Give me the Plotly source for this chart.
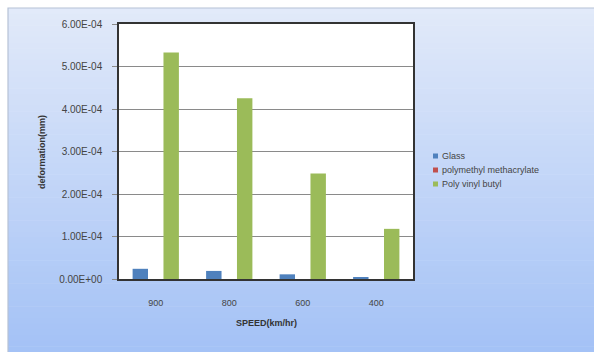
import plotly.graph_objects as go

# Data
speeds = ["900", "800", "600", "400"]
glass = [2.4e-5, 1.9e-5, 1.1e-5, 4.0e-6]
pmma = [0.0, 0.0, 0.0, 0.0]
pvb = [5.33e-4, 4.25e-4, 2.48e-4, 1.18e-4]
series_names = ["Glass", "polymethyl methacrylate", "Poly vinyl butyl"]
y_ticks = [0, 1e-4, 2e-4, 3e-4, 4e-4, 5e-4, 6e-4]
y_tick_labels = ["0.00E+00", "1.00E-04", "2.00E-04", "3.00E-04", "4.00E-04", "5.00E-04", "6.00E-04"]

W, H = 594, 352
ML, MR, MT, MB = 119, 181, 24, 73
PW, PH = W - ML - MR, H - MT - MB


def px_x(p):
    return (p - ML) / PW


def px_y(p):
    return (H - MB - p) / PH


fig = go.Figure()
colors = ["#4f81bd", "#c0504d", "#9bbb59"]
for name, vals, c in zip(series_names, [glass, pmma, pvb], colors):
    fig.add_trace(go.Bar(x=speeds, y=vals, name=name, showlegend=False,
                         marker=dict(color=c, line=dict(width=0))))

# Background: vertical gradient panel with a thin frame
shapes = []
top_rgb = (226, 234, 250)
bot_rgb = (164, 194, 246)
y_start, y_end = 8, H
n = 60
for i in range(n):
    t = i / (n - 1)
    r = int(top_rgb[0] + (bot_rgb[0] - top_rgb[0]) * t)
    g = int(top_rgb[1] + (bot_rgb[1] - top_rgb[1]) * t)
    b = int(top_rgb[2] + (bot_rgb[2] - top_rgb[2]) * t)
    p0 = y_start + (y_end - y_start) * i / n
    p1 = y_start + (y_end - y_start) * (i + 1) / n + 0.6
    shapes.append(dict(type="rect", xref="paper", yref="paper", layer="below",
                       x0=px_x(8), x1=px_x(W + 2), y0=px_y(p1), y1=px_y(p0),
                       fillcolor=f"rgb({r},{g},{b})", line=dict(width=0)))
shapes.append(dict(type="rect", xref="paper", yref="paper", layer="below",
                   x0=px_x(8), x1=px_x(W + 2), y0=px_y(H + 2), y1=px_y(8),
                   fillcolor="rgba(0,0,0,0)", line=dict(color="#b6c2d6", width=1.2)))
# White plotting area
shapes.append(dict(type="rect", xref="paper", yref="paper", layer="below",
                   x0=0, x1=1, y0=0, y1=1, fillcolor="white", line=dict(width=0)))

font_family = "Liberation Sans, Arial, sans-serif"

annotations = [
    dict(text="<b>SPEED(km/hr)</b>", xref="paper", yref="paper",
         x=px_x(266), y=px_y(330), showarrow=False,
         font=dict(size=9, color="#333")),
    dict(text="<b>deformation(mm)</b>", xref="paper", yref="paper",
         x=px_x(35), y=px_y(152), textangle=-90, showarrow=False,
         font=dict(size=9, color="#333")),
]

# Compact legend: small colour squares with labels
for i, (name, c) in enumerate(zip(series_names, colors)):
    cy = 156 + 14 * i
    shapes.append(dict(type="rect", xref="paper", yref="paper", layer="above",
                       x0=px_x(433), x1=px_x(438), y0=px_y(cy + 2.5), y1=px_y(cy - 2.5),
                       fillcolor=c, line=dict(width=0)))
    annotations.append(dict(text=name, xref="paper", yref="paper",
                            x=px_x(440), y=px_y(cy), xanchor="left", yanchor="middle",
                            showarrow=False, font=dict(size=9, color="#444")))

fig.update_layout(
    width=W, height=H,
    margin=dict(l=ML, r=MR, t=MT, b=MB),
    paper_bgcolor="white",
    plot_bgcolor="rgba(0,0,0,0)",
    barmode="group",
    bargap=0.37,
    bargroupgap=0.0,
    shapes=shapes,
    font=dict(family=font_family, size=9, color="#444"),
    showlegend=False,
    xaxis=dict(showgrid=False, ticks="", showline=True, linecolor="#333", linewidth=1.5,
               mirror=True, ticklabelstandoff=14, tickfont=dict(size=9, color="#444")),
    yaxis=dict(range=[0, 6e-4], tickvals=y_ticks, ticktext=y_tick_labels,
               showgrid=True, gridcolor="#8a8a8a", gridwidth=1,
               ticks="outside", ticklen=5, tickcolor="#8a8a8a",
               showline=True, linecolor="#333", linewidth=1.5, mirror=True,
               ticklabelstandoff=8, zeroline=False,
               tickfont=dict(size=10, color="#444")),
    annotations=annotations,
)

fig.write_html("out.html")
